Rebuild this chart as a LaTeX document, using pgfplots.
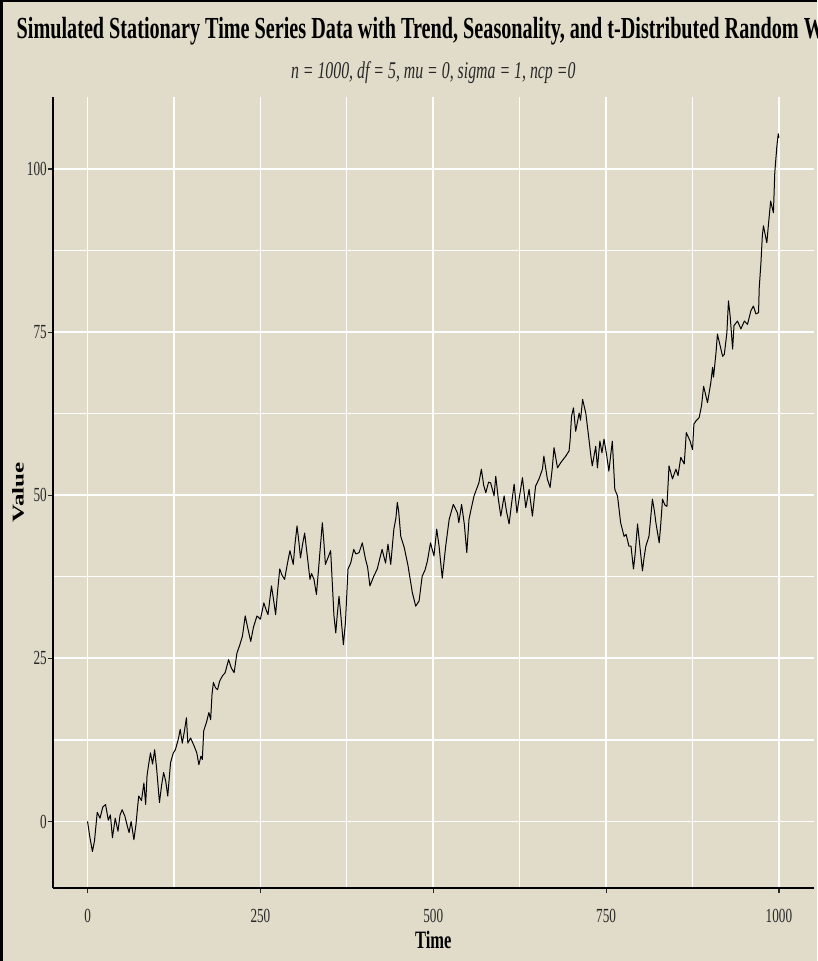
\documentclass[border=0pt]{standalone}
\usepackage{fontspec}
\setmainfont{Liberation Serif}[FakeStretch=0.66]
\newfontfamily\plainserif{Liberation Serif}
\usepackage{pgfplots}
\pgfplotsset{compat=1.18}
\definecolor{bg}{RGB}{224,220,201}
\definecolor{txt}{RGB}{40,40,40}

\pgfplotstableread{
t v
0 0
3 -2.2
7 -4.6
10 -3
14 1.4
18 0.5
22 2.2
26 2.6
30 0.2
33 1.0
36 -2.5
40 0.5
44 -1.5
47 1.0
50 1.8
54 0.8
57 -0.5
60 -1.7
63 0.0
67 -2.8
70 -0.5
72 1.8
74 3.9
78 3.2
81.5 5.9
84 2.6
86 7
88 8.5
91 10.5
94 8.8
97 11
100 8
104 2.9
107 5.5
110 7.5
113 6.2
116 3.9
120 9
124 10.5
127 11
131 12.5
134 14.1
137 12
140 13.8
143 15.9
145 12
149 12.8
154 11.6
158 10.5
161 8.7
164 10.0
166 9.5
168 13.9
172 15.2
175.5 16.7
178 15.6
180 19.5
182 21.3
185 20.5
188 20.2
191 21.5
195 22.3
199 22.8
204 24.8
208 23.5
212 22.8
216 25.8
220 27
224 28.4
228 31.5
232 29.5
236 27.6
240 29.8
245 31.5
250 31
255 33.5
258 32.5
261 31.7
266 36.1
269 34
272 31.7
275 35.5
278 38.7
281 37.8
285 37.1
289 39.5
292.7 41.5
297.5 39.4
300 42.5
303 45.3
306 42.5
308 40.4
311 42.5
314 44.2
318 40.5
321.7 37.1
324 38.0
327.5 37.1
331 34.8
334 38.5
336 41.2
339.6 45.8
342 42.5
344 39.4
348 40.5
351.6 41.5
354 36.5
356.4 31.5
359 28.9
361 31.5
363.7 34.5
366 32.0
370 27.1
373 30.5
376.7 38.7
380.6 39.6
385 41.7
388 41.0
392.7 41.2
397.4 42.7
402 40.2
405 39.0
408.4 36.1
414 37.6
419 38.7
422 40.0
426 41.7
431 39.6
434.5 42.5
438.5 39.4
443 44.8
446 46.5
448 48.9
450 47.5
453 43.7
458 42.0
463.5 39.2
469.7 35.1
474.6 33
479.5 33.8
484 37.6
488 38.5
491.5 39.9
496 42.7
501 40.7
505 44.8
508.4 42.2
513 37.3
518 42.2
523 46.3
529 48.6
535 47.3
537 45.8
541 48.6
545 45.5
548.5 41.2
551.7 46.3
555 48.0
559 49.9
566 51.9
569.6 54
573 51.5
576 50.4
580 52.0
583 51.9
588 49.9
590.4 52.9
594 49.5
597.7 46.8
602.5 49.9
606 47.5
609.7 45.6
613 48.5
617 51.7
621 47.3
625 50.0
629 52.7
633.8 48.1
638.6 50.9
643.4 46.8
648 51.4
653 52.5
657.9 54
660 56
665 52.5
669 51.2
672 54
674.7 57.3
679.7 54.2
684.4 55
688 55.5
691.7 56
696.4 56.8
698 58.5
700 62.1
702.8 63.4
706 59.8
711 62.6
713 61.5
716 64.7
720.6 62.6
723 60.5
725.5 58.3
728 56.0
730 54.5
735 57.5
737.5 54.2
741 58.3
744 56.5
747 58.6
751 56.0
754 53.7
759 58.3
762.6 50.9
766.5 49.9
771 45.8
776 43.7
779 44.0
783 42.2
786 42.2
789.6 38.7
792 41.0
795.5 45.6
799 42.0
802.6 38.4
805 40.5
807.5 42.2
812 43.7
817 49.4
820 47.5
822 45.8
826.8 42.7
829 45.5
831.6 49.4
835 48.5
838 48.3
841 54.5
846 52.5
851 54
854 53
858 55.8
863 54.8
866 59.6
871.5 58.3
875 57
877 60.9
880 61.4
884.6 61.9
888 63.7
891 66.7
896.7 64.2
901.5 67.3
904 69.6
905.4 68.1
909 71.9
911 74.7
915 72.9
918.5 71.3
921 71.6
924.7 74.9
927 79.8
929.4 77.5
933 72.4
935 76
940 76.7
945 75.5
950 76.7
954.5 76.2
959.5 78.3
963 79
966.7 77.8
970.5 78
971.5 81.8
974 85.7
976 89.8
977.6 91.3
980 90.0
982.5 88.7
984.4 91
988 95.1
992 93.3
994 99.5
997 103.5
999 105.4
1000 104.8
}\series

\begin{document}
\begin{tikzpicture}
\fill[bg] (-26.5pt,-36.5pt) rectangle (382pt,444pt);
\draw[black, line width=1.2pt] (-25.8pt,-36.5pt) -- (-25.8pt,443.4pt) -- (382pt,443.4pt);
\begin{axis}[
  name=ax, at={(0,0)}, anchor=south west, scale only axis,
  width=380.25pt, height=395.35pt,
  xmin=-50, xmax=1050, ymin=-10.2, ymax=111,
  separate axis lines,
  axis x line*=bottom, axis y line*=left,
  axis line style={line width=0.9pt, black, -},
  xtick={0,250,500,750,1000}, xticklabels={0,250,500,750,1000},
  ytick={0,25,50,75,100}, yticklabels={0,25,50,75,100},
  minor xtick={125,375,625,875}, minor ytick={12.5,37.5,62.5,87.5,-12.5},
  grid=both,
  major grid style={white, line width=0.9pt},
  minor grid style={white, line width=0.6pt},
  tick align=outside, major tick length=2.6pt, minor tick length=0pt,
  tick style={txt, line width=0.6pt},
  ticklabel style={font=\fontsize{10}{11}\selectfont, text=txt},
  xticklabel style={yshift=-4.5pt},
  yticklabel style={xshift=3pt},
  xlabel={\bfseries Time},
  xlabel style={font=\fontsize{12.5}{14}\selectfont, at={(axis description cs:0.5,-0.066)}, anchor=center},
  ylabel={\scalebox{1}[0.66]{\plainserif\bfseries\fontsize{12.5}{14}\selectfont Value}},
  ylabel style={at={(axis description cs:-0.046,0.5)}, anchor=center, rotate=0},
  title={\bfseries Simulated Stationary Time Series Data with Trend, Seasonality, and t-Distributed Random Walk},
  title style={font=\fontsize{15.3}{17}\selectfont, at={(axis description cs:0.5,1.0686)}, anchor=center},
  axis background/.style={fill=bg},
]
\addplot[black, line width=0.5pt, line join=round] table[x=t, y=v] {\series};
\end{axis}
\node[font=\fontsize{12}{13}\selectfont\itshape, text=txt] at ([yshift=12.3pt]ax.north) {n = 1000, df = 5, mu = 0, sigma = 1, ncp =0};
\pgfresetboundingbox
\useasboundingbox (-26.5pt,-36.5pt) rectangle (382pt,444pt);
\end{tikzpicture}
\end{document}
